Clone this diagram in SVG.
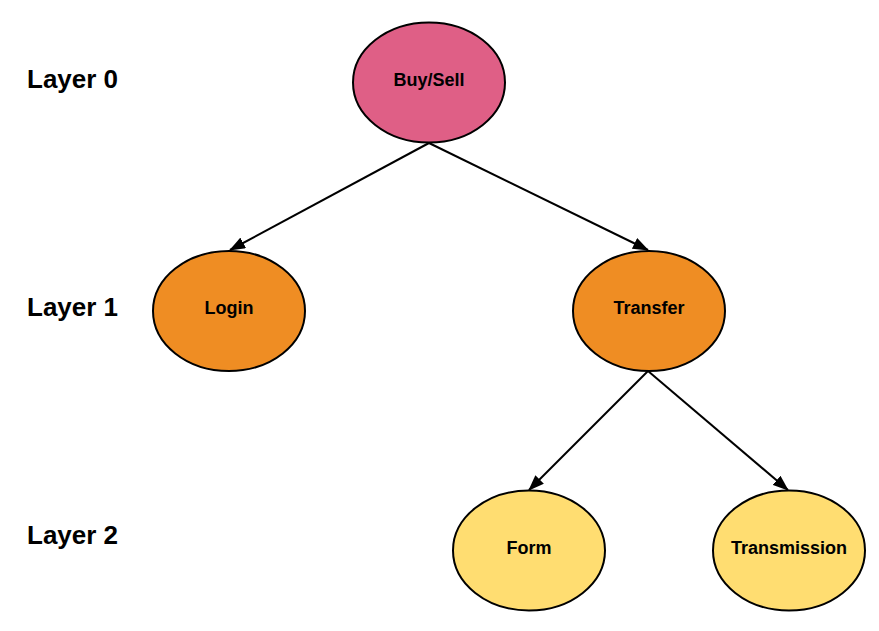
<svg xmlns="http://www.w3.org/2000/svg" width="879" height="631" viewBox="0 0 879 631">
<defs>
<style>
.node ellipse{stroke:#000;stroke-width:2}
.node text{font-family:"Liberation Sans",Arial,sans-serif;font-weight:bold;font-size:18px;text-anchor:middle;fill:#000}
.layer{font-family:"Liberation Sans",Arial,sans-serif;font-weight:bold;font-size:26px;fill:#000}
.edge{stroke:#000;stroke-width:2;fill:none;marker-end:url(#arr)}
</style>
<marker id="arr" viewBox="0 0 16 12" refX="15" refY="6" markerWidth="16" markerHeight="12" markerUnits="userSpaceOnUse" orient="auto">
<path d="M0,0 L16,6 L0,12 Z" fill="#000"/>
</marker>
</defs>
<rect width="879" height="631" fill="#fff"/>
<text class="layer" x="27" y="88">Layer 0</text>
<text class="layer" x="27" y="316">Layer 1</text>
<text class="layer" x="27" y="544">Layer 2</text>
<g id="connectors">
<line class="edge" x1="429" y1="143" x2="230" y2="250"/>
<line class="edge" x1="429" y1="143" x2="648" y2="250"/>
<line class="edge" x1="648" y1="371" x2="529" y2="490"/>
<line class="edge" x1="648" y1="371" x2="788" y2="490"/>
</g>
<g id="buysell" class="node"><ellipse cx="429" cy="82.5" rx="76" ry="60" fill="#DF5F86"/><text x="429" y="86">Buy/Sell</text></g>
<g id="login" class="node"><ellipse cx="229" cy="311" rx="76" ry="60" fill="#EF8D23"/><text x="229" y="314">Login</text></g>
<g id="transfer" class="node"><ellipse cx="649" cy="311" rx="76" ry="60" fill="#EF8D23"/><text x="649" y="314">Transfer</text></g>
<g id="form" class="node"><ellipse cx="529" cy="550.5" rx="76" ry="60" fill="#FFDD71"/><text x="529" y="554">Form</text></g>
<g id="transmission" class="node"><ellipse cx="789" cy="550.5" rx="76" ry="60" fill="#FFDD71"/><text x="789" y="554">Transmission</text></g>
</svg>
